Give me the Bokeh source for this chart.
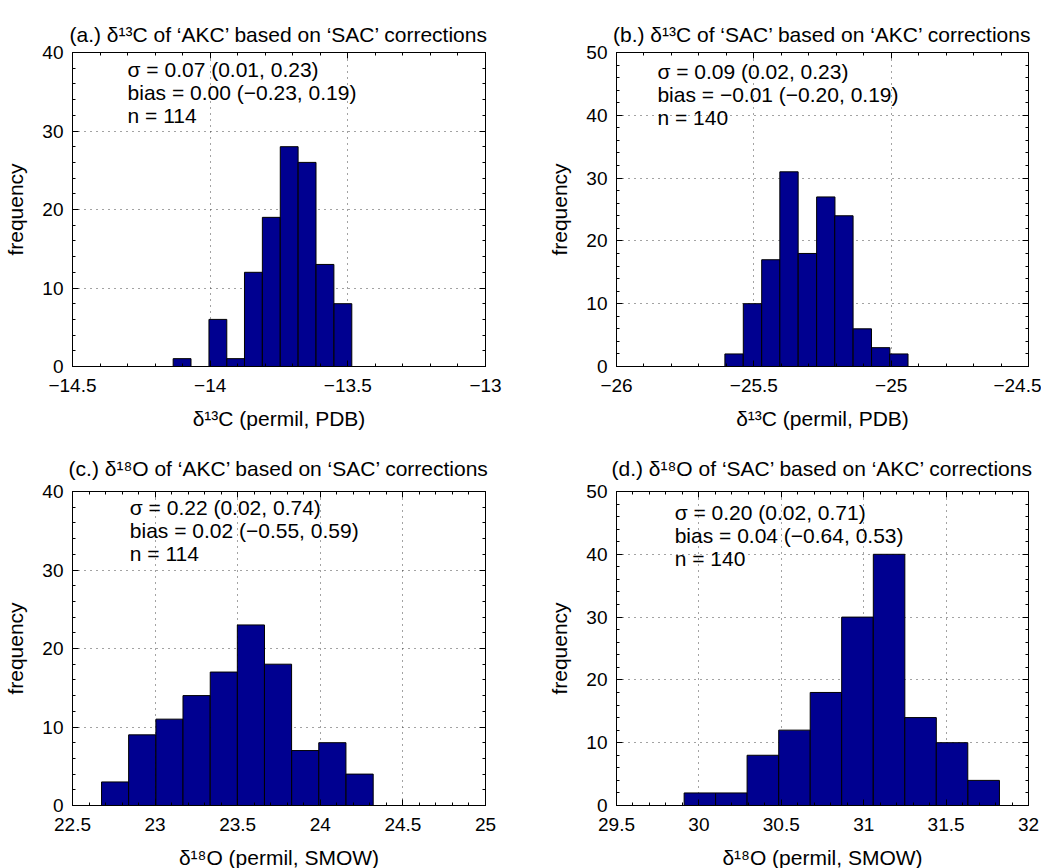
import numpy as np
from bokeh.plotting import figure
from bokeh.layouts import gridplot
from bokeh.models import FixedTicker, LinearAxis, Label, Range1d, ColumnDataSource
from bokeh.embed import file_html
from bokeh.resources import INLINE

FONT = "Liberation Sans"
BAR_COLOR = "#000090"

# ---------------- data ----------------
# (a) d13C of AKC based on SAC corrections
a_centers = [-14.102, -14.037, -13.972, -13.907, -13.843, -13.778, -13.713, -13.648, -13.583, -13.518]
a_width = 0.0648
a_counts = [1, 0, 6, 1, 12, 19, 28, 26, 13, 8]
a_xticks = [-14.5, -14.0, -13.5, -13.0]
a_xlabels = ["\u221214.5", "\u221214", "\u221213.5", "\u221213"]
a_yticks = [0, 10, 20, 30, 40]
a_stats = ["\u03c3 = 0.07 (0.01, 0.23)", "bias = 0.00 (\u22120.23, 0.19)", "n = 114"]

# (b) d13C of SAC based on AKC corrections
b_centers = [-25.572, -25.505, -25.438, -25.372, -25.305, -25.238, -25.172, -25.105, -25.038, -24.972]
b_width = 0.0667
b_counts = [2, 10, 17, 31, 18, 27, 24, 6, 3, 2]
b_xticks = [-26.0, -25.5, -25.0, -24.5]
b_xlabels = ["\u221226", "\u221225.5", "\u221225", "\u221224.5"]
b_yticks = [0, 10, 20, 30, 40, 50]
b_stats = ["\u03c3 = 0.09 (0.02, 0.23)", "bias = \u22120.01 (\u22120.20, 0.19)", "n = 140"]

# (c) d18O of AKC based on SAC corrections
c_centers = [22.758, 22.922, 23.087, 23.251, 23.416, 23.580, 23.744, 23.909, 24.073, 24.238]
c_width = 0.1644
c_counts = [3, 9, 11, 14, 17, 23, 18, 7, 8, 4]
c_xticks = [22.5, 23.0, 23.5, 24.0, 24.5, 25.0]
c_xlabels = ["22.5", "23", "23.5", "24", "24.5", "25"]
c_yticks = [0, 10, 20, 30, 40]
c_stats = ["\u03c3 = 0.22 (0.02, 0.74)", "bias = 0.02 (\u22120.55, 0.59)", "n = 114"]

# (d) d18O of SAC based on AKC corrections
d_centers = [30.006, 30.197, 30.388, 30.580, 30.771, 30.962, 31.154, 31.345, 31.536, 31.728]
d_width = 0.1913
d_counts = [2, 2, 8, 12, 18, 30, 40, 14, 10, 4]
d_xticks = [29.5, 30.0, 30.5, 31.0, 31.5, 32.0]
d_xlabels = ["29.5", "30", "30.5", "31", "31.5", "32"]
d_yticks = [0, 10, 20, 30, 40, 50]
d_stats = ["\u03c3 = 0.20 (0.02, 0.71)", "bias = 0.04 (\u22120.64, 0.53)", "n = 140"]

titles = [
    "(a.) \u03b4\u00b9\u00b3C of \u2018AKC\u2019 based on \u2018SAC\u2019 corrections",
    "(b.) \u03b4\u00b9\u00b3C of \u2018SAC\u2019 based on \u2018AKC\u2019 corrections",
    "(c.) \u03b4\u00b9\u2078O of \u2018AKC\u2019 based on \u2018SAC\u2019 corrections",
    "(d.) \u03b4\u00b9\u2078O of \u2018SAC\u2019 based on \u2018AKC\u2019 corrections",
]
xlabel_C = "\u03b4\u00b9\u00b3C (permil, PDB)"
xlabel_O = "\u03b4\u00b9\u2078O (permil, SMOW)"
ylabel = "frequency"

# annotation anchor (data coords of the first line)
a_text_xy = (-14.30, 37.8)
b_text_xy = (-25.851, 46.9)
c_text_xy = (22.847, 37.9)
d_text_xy = (29.853, 46.7)


def tick_only_axis(positions, length):
    # axis with no major ticks (hence no labels); ticks drawn as minor ticks
    return LinearAxis(ticker=FixedTicker(ticks=[], minor_ticks=positions),
                      major_tick_in=0, major_tick_out=0,
                      minor_tick_in=length, minor_tick_out=0,
                      major_label_standoff=0,
                      axis_line_color=None,
                      minor_tick_line_color="black")


def make_panel(title, centers, width, counts, xticks, xlabels, yticks, stats, text_xy,
               xlab, borders, fw, title_standoff):
    xmin, xmax = xticks[0], xticks[-1]
    ymax = yticks[-1]
    bl, br, bt, bb = borders
    p = figure(frame_width=fw, frame_height=314,
               x_range=Range1d(xmin, xmax), y_range=Range1d(0, ymax),
               output_backend="svg", toolbar_location=None,
               min_border_left=bl, min_border_right=br,
               min_border_top=bt, min_border_bottom=bb)
    p.background_fill_color = "white"
    p.border_fill_color = "white"
    p.outline_line_color = "black"
    p.outline_line_width = 1
    p.outline_line_alpha = 1

    p.title.text = title
    p.title.align = "center"
    p.title.text_font = FONT
    p.title.text_font_size = "21px"
    p.title.text_font_style = "normal"
    p.title.text_color = "black"
    p.title.standoff = title_standoff

    xminor = [float(v) for v in np.round(np.arange(xmin, xmax + 1e-9, 0.1), 4)]
    yminor = [float(v) for v in np.arange(0, ymax + 1e-9, 2)]
    xt = FixedTicker(ticks=xticks, minor_ticks=xminor)
    yt = FixedTicker(ticks=yticks, minor_ticks=yminor)

    for ax in (p.xaxis[0], p.yaxis[0]):
        ax.major_tick_in = 6
        ax.major_tick_out = 0
        ax.minor_tick_in = 3
        ax.minor_tick_out = 0
        ax.axis_line_color = "black"
        ax.major_tick_line_color = "black"
        ax.minor_tick_line_color = "black"
        ax.major_label_text_font = FONT
        ax.major_label_text_font_size = "19px"
        ax.major_label_text_color = "black"
        ax.axis_label_text_font = FONT
        ax.axis_label_text_font_size = "21px"
        ax.axis_label_text_font_style = "normal"
        ax.axis_label_text_color = "black"

    p.xaxis[0].ticker = xt
    p.yaxis[0].ticker = yt
    p.xaxis[0].major_label_overrides = {t: l for t, l in zip(xticks, xlabels)}
    p.xaxis[0].major_label_standoff = 12
    p.xaxis[0].axis_label = xlab
    p.xaxis[0].axis_label_standoff = 12
    p.yaxis[0].major_label_standoff = 9
    p.yaxis[0].axis_label = ylabel
    p.yaxis[0].axis_label_standoff = 12

    # inward ticks on top and right (box), no labels
    p.add_layout(tick_only_axis(xticks, 6), "above")
    p.add_layout(tick_only_axis(xminor, 3), "above")
    p.add_layout(tick_only_axis(yticks, 6), "right")
    p.add_layout(tick_only_axis(yminor, 3), "right")

    p.xgrid.ticker = xt
    p.ygrid.ticker = yt
    for g in (p.xgrid[0], p.ygrid[0]):
        g.grid_line_color = "#333333"
        g.grid_line_dash = "1 5"
        g.grid_line_width = 1
        g.grid_line_alpha = 0.9

    c = np.array(centers)
    src = ColumnDataSource(dict(left=c - width / 2, right=c + width / 2,
                                top=counts, bottom=[0] * len(counts)))
    p.quad(left="left", right="right", top="top", bottom="bottom", source=src,
           fill_color=BAR_COLOR, line_color="black", line_width=1)

    for i, s in enumerate(stats):
        p.add_layout(Label(x=text_xy[0], y=text_xy[1], text=s, y_offset=-23 * i,
                           text_font=FONT, text_font_size="21px",
                           text_color="black", text_baseline="middle",
                           text_align="left"))
    return p


pa = make_panel(titles[0], a_centers, a_width, a_counts, a_xticks, a_xlabels, a_yticks,
                a_stats, a_text_xy, xlabel_C, (72, 40, 52, 72), 413, 13)
pb = make_panel(titles[1], b_centers, b_width, b_counts, b_xticks, b_xlabels, b_yticks,
                b_stats, b_text_xy, xlabel_C, (91, 13, 52, 72), 412, 13)
pc = make_panel(titles[2], c_centers, c_width, c_counts, c_xticks, c_xlabels, c_yticks,
                c_stats, c_text_xy, xlabel_O, (72, 40, 53, 60), 413, 24)
pd = make_panel(titles[3], d_centers, d_width, d_counts, d_xticks, d_xlabels, d_yticks,
                d_stats, d_text_xy, xlabel_O, (91, 13, 53, 60), 412, 24)

grid = gridplot([[pa, pb], [pc, pd]], toolbar_location=None)

open("out.html", "w").write(file_html(grid, INLINE))
